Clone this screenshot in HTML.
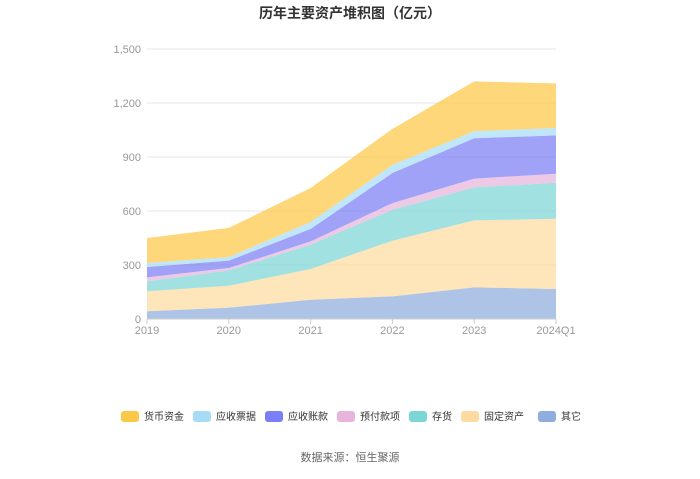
<!DOCTYPE html>
<html><head><meta charset="utf-8"><style>
body{margin:0;width:700px;height:474px;background:#fff;font-family:"Liberation Sans","Noto Sans CJK SC",sans-serif;overflow:hidden}
</style></head><body>
<svg id="c" width="700" height="474">
<text x="350" y="18" text-anchor="middle" font-size="14" font-weight="bold" fill="#333">历年主要资产堆积图（亿元）</text>
<g id="grid"></g><g id="areas"></g><g id="axes"></g><g id="legend"></g>
<text x="350" y="461" text-anchor="middle" font-size="11" fill="#666">数据来源：恒生聚源</text>
</svg>
<script>
const categories=["2019","2020","2021","2022","2023","2024Q1"];
const seriesNames=["其它","固定资产","存货","预付款项","应收账款","应收票据","货币资金"];
const other=[43,63,107,126,176,167];
const fixedAssets=[111,122,171,309,372,390];
const inventory=[55,85,135,172,183,200];
const prepay=[22,13,18,37,49,50];
const receivable=[58,41,69,167,224,213];
const bills=[22,20,39,45,39,41];
const cash=[139,162,189,200,277,248];
const yTicks=[0,300,600,900,1200,1500];
const yTickLabels=["0","300","600","900","1,200","1,500"];
const colors=["#8fadde","#fddba0","#7dd6d6","#e8b4dc","#7b7ef5","#a6dcf6","#fcc847"];
const series=[other,fixedAssets,inventory,prepay,receivable,bills,cash];
const NS="http://www.w3.org/2000/svg";
const x0=147,x1=556,yb=319,yt=49,vmax=1500;
const xs=i=>x0+(x1-x0)*i/(categories.length-1);
const ys=v=>yb-(yb-yt)*v/vmax;
function mk(t,a,p){const e=document.createElementNS(NS,t);for(const k in a)e.setAttribute(k,a[k]);p.appendChild(e);return e;}
const grid=document.getElementById('grid'),axes=document.getElementById('axes'),areas=document.getElementById('areas'),leg=document.getElementById('legend');
yTicks.forEach((v,i)=>{
 if(v>0){const l=mk('line',{x1:x0,x2:x1,y1:ys(v),y2:ys(v),stroke:'#e6e6e6'},grid);
 
 }
 const t=mk('text',{x:x0-6,y:ys(v)+4,'text-anchor':'end','font-size':11,fill:'#999'},axes);t.textContent=yTickLabels[i];
 
 
});
const ax=mk('line',{x1:x0,x2:x1,y1:yb,y2:yb,stroke:'#ccc'},axes);


categories.forEach((c,i)=>{
 mk('line',{x1:xs(i),x2:xs(i),y1:yb,y2:yb+5,stroke:'#ccc'},axes);
 const t=mk('text',{x:xs(i),y:yb+15,'text-anchor':'middle','font-size':11,fill:'#999'},axes);t.textContent=c;
 
 
});
let base=categories.map(()=>0);
series.forEach((s,k)=>{
 const top=base.map((b,i)=>b+s[i]);
 let d='M'+top.map((v,i)=>xs(i)+','+ys(v)).join('L');
 for(let i=categories.length-1;i>=0;i--)d+='L'+xs(i)+','+ys(base[i]);
 const p=mk('path',{d:d+'Z',fill:colors[k],'fill-opacity':0.72},areas);
 
 
 base=top;
});
const legX=[121,193,265,337,409,461,538];
const order=[6,5,4,3,2,1,0];
order.forEach((k,j)=>{
 const g=mk('g',{},leg);
 
 
 mk('rect',{x:legX[j],y:411,width:18,height:11,rx:3,fill:colors[k]},g);
 const t=mk('text',{x:legX[j]+23,y:420,'font-size':10,fill:'#333'},g);t.textContent=seriesNames[k];
});
</script>
</body></html>
